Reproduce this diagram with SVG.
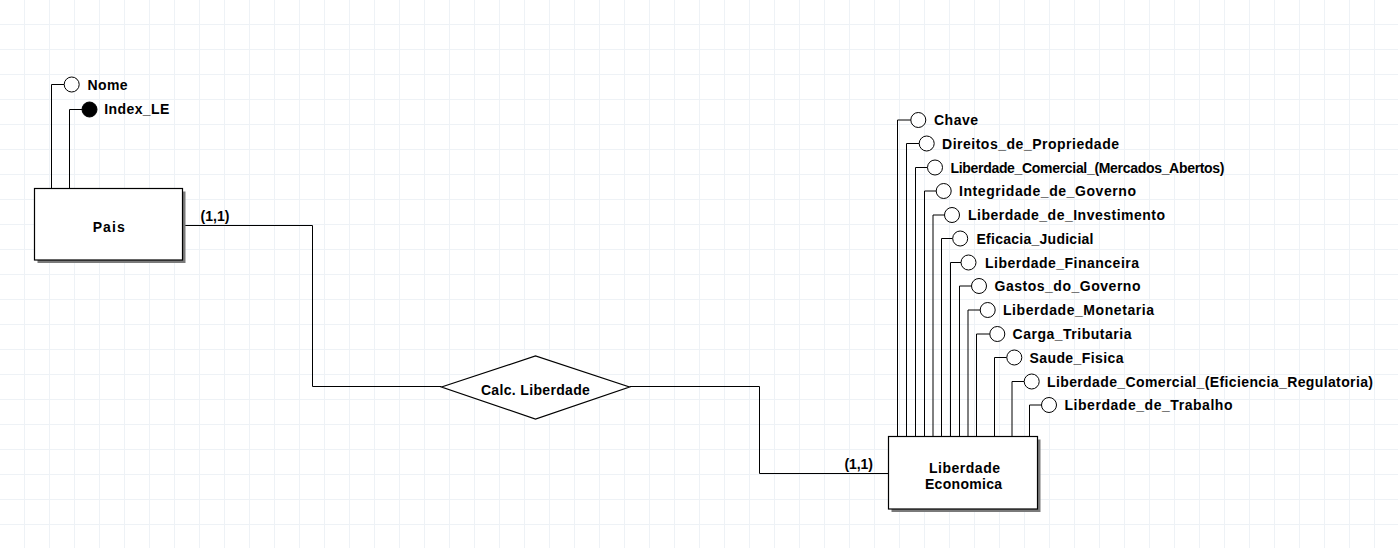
<svg xmlns="http://www.w3.org/2000/svg" width="1398" height="548" viewBox="0 0 1398 548">
<defs>
<pattern id="grid" x="0" y="0" width="25" height="25" patternUnits="userSpaceOnUse">
<path d="M24.5,0 V25 M0,24.5 H25" stroke="#eef2f6" stroke-width="1" fill="none"/>
</pattern>
</defs>
<style>
.t{font-family:"Liberation Sans",Arial,sans-serif;font-size:14px;font-weight:bold;fill:#000}
.c{text-anchor:middle}
.ln{fill:none;stroke:#000;stroke-width:1}
.box{fill:#fff;stroke:#000;stroke-width:1.2}
.sh{fill:#7a7a7a}
.at{fill:#fff;stroke:#000;stroke-width:1}
.key{fill:#000;stroke:#000;stroke-width:1}
</style>
<rect width="1398" height="548" fill="#fff"/>
<rect width="1398" height="548" fill="url(#grid)"/>

<g id="connectors">
<path class="ln" d="M182.5,225.5 H312.5 V386.5 H441.5"/>
<path class="ln" d="M629.5,386.5 H759.5 V473.5 H888.5"/>
<text class="t" x="200.5" y="220.5" textLength="29">(1,1)</text>
<text class="t" x="844.5" y="469" textLength="28.5">(1,1)</text>
</g>

<g id="pais">
<path class="ln" d="M51.5,188.5 V84.5 H64.2"/>
<circle class="at" cx="71.7" cy="84.5" r="7.5"/>
<text class="t" x="87.5" y="89.5" textLength="40">Nome</text>
<path class="ln" d="M69.5,188.5 V109.5 H82"/>
<circle class="key" cx="89.5" cy="109.5" r="7.5"/>
<text class="t" x="104.3" y="114.2" textLength="65">Index_LE</text>
<rect class="sh" x="37.5" y="191.5" width="148" height="71.5"/>
<rect class="box" x="34.5" y="188.5" width="148" height="71.5"/>
<text class="t c" x="108.7" y="232" textLength="32">Pais</text>
</g>

<g id="calc_liberdade">
<polygon class="box" points="441.5,387 535.5,356 629.5,387 535.5,419"/>
<text class="t c" x="535.4" y="395" textLength="109">Calc. Liberdade</text>
</g>

<g id="liberdade_economica">
<path class="ln" d="M897.5,436.5 V120 H910.8"/>
<circle class="at" cx="918.3" cy="120" r="7.5"/>
<text class="t" x="934" y="125" textLength="44">Chave</text>

<path class="ln" d="M906.5,436.5 V143.5 H919.2"/>
<circle class="at" cx="926.7" cy="143.5" r="7.5"/>
<text class="t" x="942" y="148.5" textLength="177">Direitos_de_Propriedade</text>

<path class="ln" d="M915.5,436.5 V167.5 H927.5"/>
<circle class="at" cx="935" cy="167.5" r="7.5"/>
<text class="t" x="950.5" y="172.5" textLength="274">Liberdade_Comercial_(Mercados_Abertos)</text>

<path class="ln" d="M924.5,436.5 V191 H936.2"/>
<circle class="at" cx="943.7" cy="191" r="7.5"/>
<text class="t" x="959" y="196" textLength="177">Integridade_de_Governo</text>

<path class="ln" d="M933,436.5 V215 H944.5"/>
<circle class="at" cx="952" cy="215" r="7.5"/>
<text class="t" x="968" y="220" textLength="197">Liberdade_de_Investimento</text>

<path class="ln" d="M941.5,436.5 V238.5 H952.7"/>
<circle class="at" cx="960.2" cy="238.5" r="7.5"/>
<text class="t" x="976.5" y="243.5" textLength="117">Eficacia_Judicial</text>

<path class="ln" d="M950.5,436.5 V262.5 H961"/>
<circle class="at" cx="968.5" cy="262.5" r="7.5"/>
<text class="t" x="985" y="267.5" textLength="154">Liberdade_Financeira</text>

<path class="ln" d="M959.5,436.5 V286 H971.5"/>
<circle class="at" cx="979" cy="286" r="7.5"/>
<text class="t" x="994.5" y="291" textLength="146">Gastos_do_Governo</text>

<path class="ln" d="M968,436.5 V310 H980.2"/>
<circle class="at" cx="987.7" cy="310" r="7.5"/>
<text class="t" x="1003" y="315" textLength="151">Liberdade_Monetaria</text>

<path class="ln" d="M976.5,436.5 V334 H989.8"/>
<circle class="at" cx="997.3" cy="334" r="7.5"/>
<text class="t" x="1012.5" y="339" textLength="119">Carga_Tributaria</text>

<path class="ln" d="M994.5,436.5 V357.5 H1006.8"/>
<circle class="at" cx="1014.3" cy="357.5" r="7.5"/>
<text class="t" x="1029.5" y="362.5" textLength="94">Saude_Fisica</text>

<path class="ln" d="M1012,436.5 V381.5 H1024.2"/>
<circle class="at" cx="1031.7" cy="381.5" r="7.5"/>
<text class="t" x="1047" y="386.5" textLength="326">Liberdade_Comercial_(Eficiencia_Regulatoria)</text>

<path class="ln" d="M1029.5,436.5 V405 H1041.5"/>
<circle class="at" cx="1049" cy="405" r="7.5"/>
<text class="t" x="1064.5" y="410" textLength="168">Liberdade_de_Trabalho</text>

<rect class="sh" x="891.5" y="439.5" width="149" height="72.5"/>
<rect class="box" x="888.5" y="436.5" width="149" height="72.5"/>
<text class="t c" x="964.5" y="473" textLength="71">Liberdade</text>
<text class="t c" x="963.5" y="488.5" textLength="77">Economica</text>
</g>
</svg>
